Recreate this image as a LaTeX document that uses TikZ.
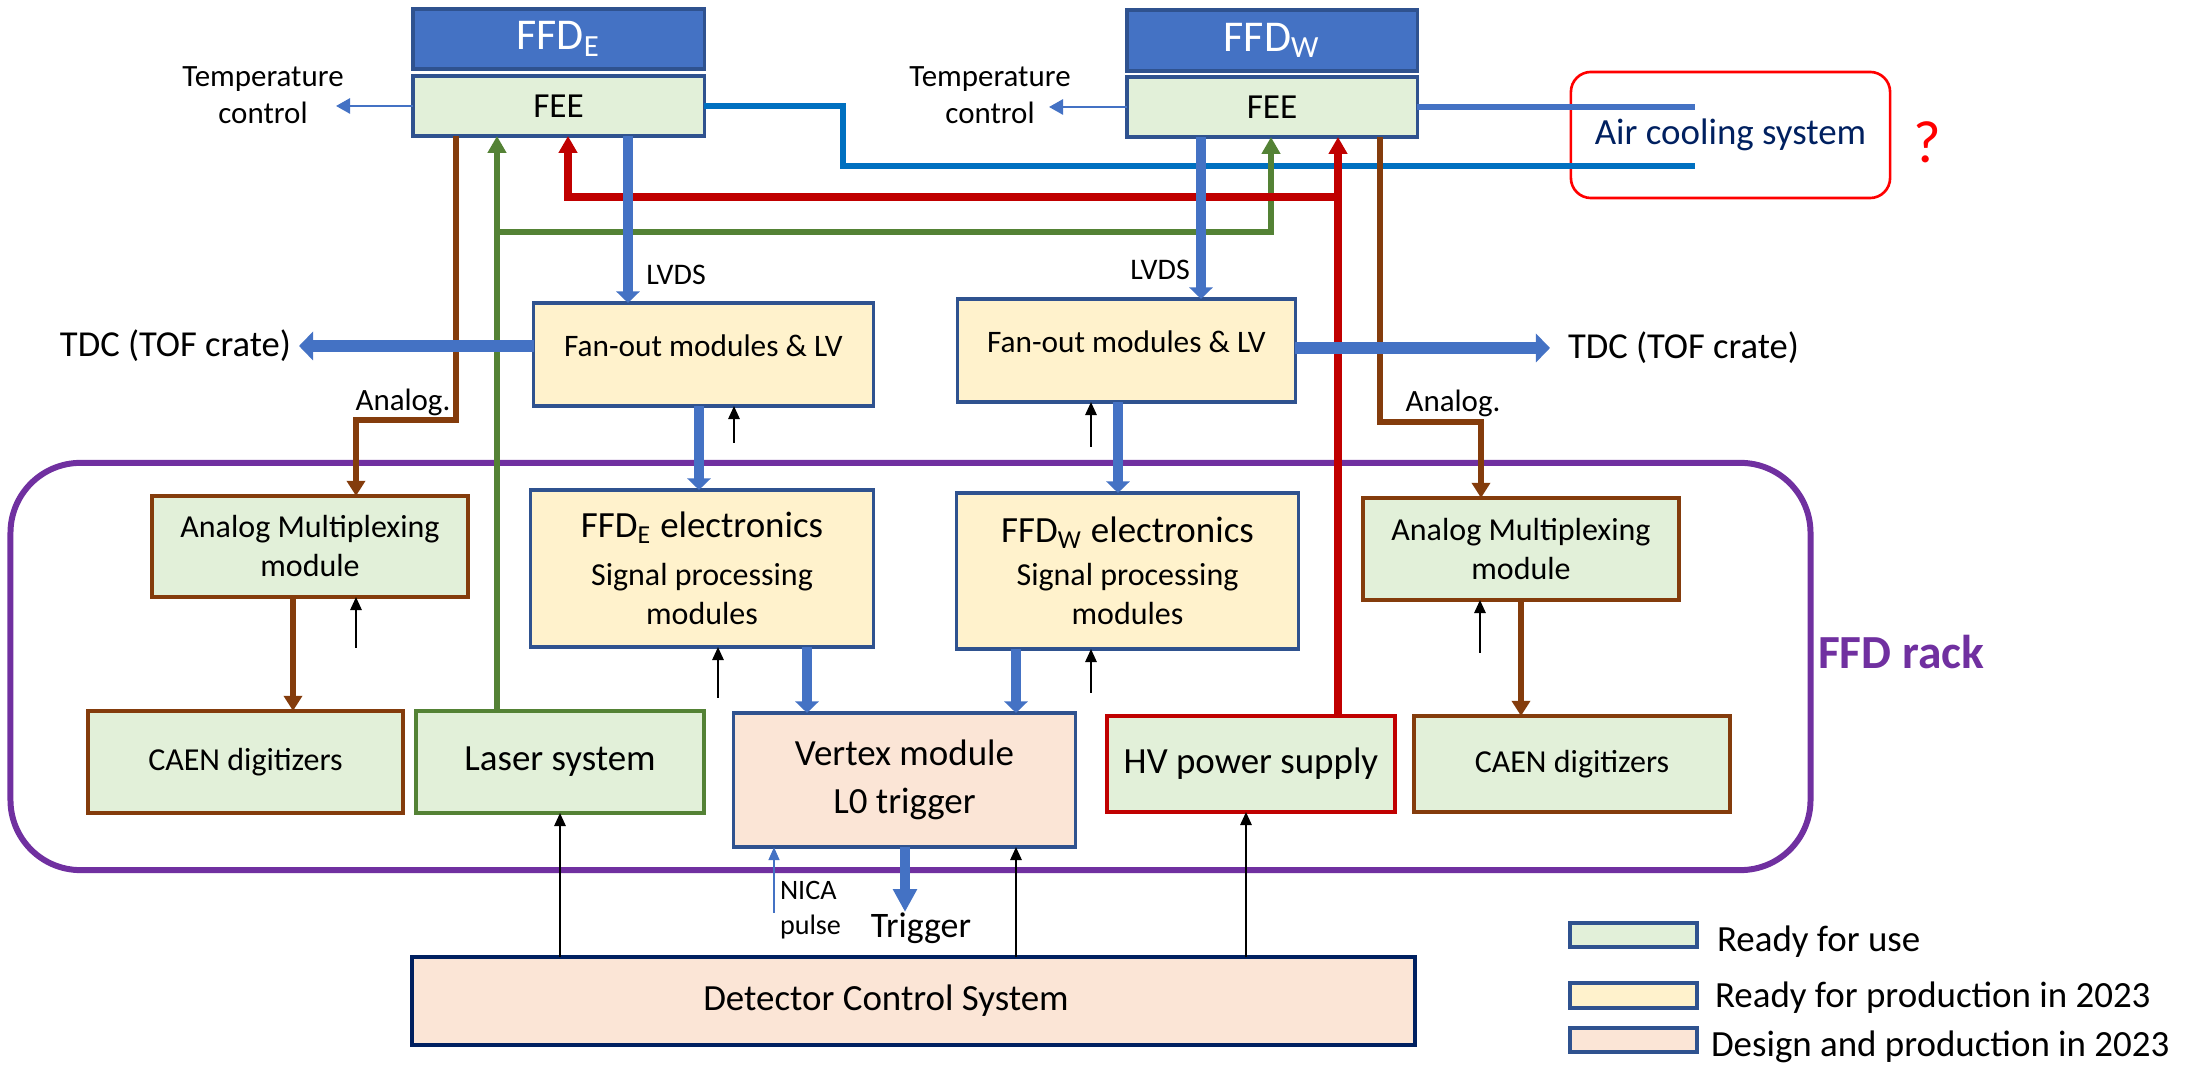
\documentclass[tikz,border=0pt]{standalone}
\usepackage{fontspec}
\setmainfont{Carlito}
\usetikzlibrary{arrows.meta}
\definecolor{ffdblue}{HTML}{4472C4}
\definecolor{bordblue}{HTML}{2F528F}
\definecolor{fillgreen}{HTML}{E2F0D9}
\definecolor{fillyellow}{HTML}{FFF2CC}
\definecolor{fillpeach}{HTML}{FBE5D6}
\definecolor{navyc}{HTML}{002060}
\definecolor{brownc}{HTML}{843C0C}
\definecolor{greenc}{HTML}{548235}
\definecolor{redc}{HTML}{C00000}
\definecolor{coolblue}{HTML}{0070C0}
\definecolor{rackpurple}{HTML}{7030A0}
\definecolor{airred}{HTML}{FF0000}
\begin{document}
\begin{tikzpicture}[x=0.01cm,y=-0.01cm,
  wh/.style 2 args={minimum width=#1,minimum height=#2},
  box/.style={draw=bordblue,line width=0.9pt,inner sep=0pt,outer sep=0pt,align=center},
  lbl/.style={inner sep=0pt,outer sep=0pt,align=center},
  fsmall/.style={font=\fontsize{8.8}{10.5}\selectfont},
  fmid/.style={font=\fontsize{9.1}{11.1}\selectfont},
  fbig/.style={font=\fontsize{10.5}{12.8}\selectfont},
  bluearrow/.style={draw=ffdblue,line width=3.1pt,-{Triangle[length=3.3pt,width=6.6pt]}},
  tdcarrow/.style={draw=ffdblue,line width=3.2pt,-{Triangle[length=4pt,width=8pt]}},
  trigarrow/.style={draw=ffdblue,line width=2.9pt,-{Triangle[length=6.5pt,width=6.5pt]}},
  temparrow/.style={draw=ffdblue,line width=0.75pt,-{Triangle[length=4pt,width=4.3pt]}},
  nicaarrow/.style={draw=ffdblue,line width=0.75pt,-{Triangle[length=3.7pt,width=3pt]}},
  blackarrow/.style={draw=black,line width=0.6pt,-{Triangle[length=3.7pt,width=3.2pt]}},
  brownarrow/.style={draw=brownc,line width=1.7pt,-{Triangle[length=4.3pt,width=5.1pt]}},
  greenarrow/.style={draw=greenc,line width=1.7pt,-{Triangle[length=4.8pt,width=5.1pt]}},
  redarrow/.style={draw=redc,line width=2pt,-{Triangle[length=4.8pt,width=5.1pt]}},
  coolline/.style={draw=coolblue,line width=1.7pt},
  coolline2/.style={draw=ffdblue,line width=1.9pt},
]
\useasboundingbox (0,0) rectangle (2202,1065);

% FFD rack
\node[draw=rackpurple,line width=1.7pt,rounded corners=0.7cm,inner sep=0pt,outer sep=0pt,wh={17.99cm}{4.07cm}] (rack) at (910.5,666.5) {};
\node[lbl,anchor=base west,text=rackpurple,font=\fontsize{13.5}{16}\selectfont\bfseries] (racklbl) at (1818,669) {FFD rack};

% Top blocks
\node[box,fill=ffdblue,text=white,font=\fontsize{12.5}{15}\selectfont,wh={2.91cm}{0.60cm}] (ffdE) at (558.5,39) {FFD\textsubscript{E}};
\node[box,fill=fillgreen,font=\fontsize{10}{12}\selectfont,wh={2.91cm}{0.60cm}] (feeE) at (558.5,106) {FEE};
\node[box,fill=ffdblue,text=white,font=\fontsize{12.5}{15}\selectfont,wh={2.90cm}{0.61cm}] (ffdW) at (1272,40.5) {FFD\textsubscript{W}};
\node[box,fill=fillgreen,font=\fontsize{10}{12}\selectfont,wh={2.90cm}{0.60cm}] (feeW) at (1272,107) {FEE};

% Air cooling
\node[draw=airred,line width=0.75pt,rounded corners=0.2cm,inner sep=0pt,outer sep=0pt,wh={3.19cm}{1.26cm},text=navyc,fbig] (air) at (1730.5,135) {Air cooling system};
\node[lbl,text=airred,font=\fontsize{17}{20}\selectfont] (qmark) at (1927,142) {?};

% Fan-out
\node[box,fill=fillyellow,font=\fontsize{8.9}{10.9}\selectfont,text height=5.7pt,text depth=4.6pt,wh={3.39cm}{1.03cm}] (fanE) at (703.5,354.5) {Fan-out modules \& LV};
\node[box,fill=fillyellow,font=\fontsize{8.9}{10.9}\selectfont,text height=5.7pt,text depth=4.6pt,wh={3.37cm}{1.03cm}] (fanW) at (1126.5,350.5) {Fan-out modules \& LV};

% Electronics
\node[box,fill=fillyellow,fmid,wh={3.42cm}{1.57cm}] (elecE) at (702,568.5) {{\fontsize{10.5}{12.8}\selectfont FFD\textsubscript{E} electronics}\\[2.6pt]Signal processing\\modules};
\node[box,fill=fillyellow,fmid,wh={3.41cm}{1.56cm}] (elecW) at (1127.5,571) {{\fontsize{10.5}{12.8}\selectfont FFD\textsubscript{W} electronics}\\[1.2pt]Signal processing\\modules};

% Mux
\node[box,draw=brownc,line width=1.1pt,fill=fillgreen,fmid,wh={3.16cm}{1.01cm}] (muxE) at (310,546.5) {Analog Multiplexing\\module};
\node[box,draw=brownc,line width=1.1pt,fill=fillgreen,fmid,wh={3.16cm}{1.02cm}] (muxW) at (1521,549) {Analog Multiplexing\\module};

% Bottom row
\node[box,draw=brownc,line width=1.1pt,fill=fillgreen,fmid,wh={3.15cm}{1.02cm}] (caenE) at (245.5,762) {CAEN digitizers};
\node[box,draw=greenc,line width=1.1pt,fill=fillgreen,fbig,wh={2.88cm}{1.02cm}] (laser) at (560,762) {Laser system};
\node[box,fill=fillpeach,fbig,wh={3.41cm}{1.34cm}] (vertex) at (904.5,780) {Vertex module\\[1pt]L0 trigger};
\node[box,draw=redc,line width=1.1pt,fill=fillgreen,fbig,wh={2.88cm}{0.96cm}] (hv) at (1251,764) {HV power supply};
\node[box,draw=brownc,line width=1.1pt,fill=fillgreen,fmid,wh={3.16cm}{0.96cm}] (caenW) at (1572,764) {CAEN digitizers};

% DCS
\node[box,draw=navyc,line width=1.2pt,fill=fillpeach,fbig,wh={10.03cm}{0.88cm}] (dcs) at (913.5,1001) {Detector Control System\hspace*{0.55cm}};

% Legend
\node[box,fill=fillgreen,wh={1.27cm}{0.24cm}] (lg1) at (1633.5,935) {};
\node[box,fill=fillyellow,wh={1.27cm}{0.25cm}] (lg2) at (1633.5,995.5) {};
\node[box,fill=fillpeach,wh={1.27cm}{0.24cm}] (lg3) at (1633.5,1040) {};
\node[lbl,fbig,anchor=base west] (lg1t) at (1717,952) {Ready for use};
\node[lbl,fbig,anchor=base west] (lg2t) at (1715,1008) {Ready for production in 2023};
\node[lbl,fbig,anchor=base west] (lg3t) at (1711,1057) {Design and production in 2023};

% Text labels
\node[lbl,fsmall] (tempEt) at (263,95) {Temperature\\control};
\node[lbl,fsmall] (tempWt) at (990,95) {Temperature\\control};
\node[lbl,font=\fontsize{8.5}{10}\selectfont] (lvdsEt) at (676,275) {LVDS};
\node[lbl,font=\fontsize{8.5}{10}\selectfont] (lvdsWt) at (1160,270) {LVDS};
\node[lbl,fsmall] (anEt) at (403,402) {Analog.};
\node[lbl,fsmall] (anWt) at (1453,403) {Analog.};
\node[lbl,font=\fontsize{10.4}{12.5}\selectfont,anchor=east] (tdcEt) at (291,346) {TDC (TOF crate)};
\node[lbl,font=\fontsize{10.4}{12.5}\selectfont,anchor=west] (tdcWt) at (1568,348) {TDC (TOF crate)};
\node[lbl,align=left,anchor=west,font=\fontsize{8}{10}\selectfont] (nicat) at (780,910) {NICA\\pulse};
\node[lbl,font=\fontsize{10.2}{12}\selectfont] (trigt) at (921,928) {Trigger};

% Coordinates
\coordinate (tE) at (336,106);
\coordinate (tW) at (1049,107);
\coordinate (cA) at (843,106);
\coordinate (cB) at (843,166);
\coordinate (airBot) at (1695,166);
\coordinate (airTop) at (1695,107);
\coordinate (rA) at (1338,197);
\coordinate (rB) at (568,197);
\coordinate (gA) at (497,232);
\coordinate (gB) at (1271,232);
\coordinate (bE1) at (456,420);
\coordinate (bE2) at (356,420);
\coordinate (bE3) at (293,0);
\coordinate (bW1) at (1380,422);
\coordinate (bW2) at (1481,422);
\coordinate (bW3) at (1521,0);
\coordinate (lE) at (628,0);
\coordinate (lW) at (1201,0);
\coordinate (tdcE) at (299,346);
\coordinate (tdcW) at (1550,348);
\coordinate (feE) at (699,0);
\coordinate (feW) at (1118,0);
\coordinate (evE) at (807,0);
\coordinate (evW) at (1016,0);
\coordinate (k1) at (734,443);
\coordinate (k2) at (1091,447);
\coordinate (k3) at (356,648);
\coordinate (k4) at (1480,653);
\coordinate (k5) at (718,698);
\coordinate (k6) at (1091,693);
\coordinate (d1) at (560,0);
\coordinate (d2) at (1016,0);
\coordinate (d3) at (1246,0);
\coordinate (nica) at (774,913);
\coordinate (trig) at (905,912);

% Cooling
\draw[coolline] (feeE.east |- cA) -- (cA) -- (cB) -- (airBot);
\draw[coolline2] (feeW.east |- airTop) -- (airTop);

% Temperature
\draw[temparrow] (feeE.west |- tE) -- (tE);
\draw[temparrow] (feeW.west |- tW) -- (tW);

% Brown
\draw[brownarrow] (feeE.south -| bE1) -- (bE1) -- (bE2) -- (muxE.north -| bE2);
\draw[brownarrow] (muxE.south -| bE3) -- (caenE.north -| bE3);
\draw[brownarrow] (feeW.south -| bW1) -- (bW1) -- (bW2) -- (muxW.north -| bW2);
\draw[brownarrow] (muxW.south -| bW3) -- (caenW.north -| bW3);

% Green
\draw[greenarrow] (laser.north -| gA) -- (feeE.south -| gA);
\draw[greenarrow] (gA) -- (gB) -- (feeW.south -| gB);

% Red
\draw[redarrow] (hv.north -| rA) -- (feeW.south -| rA);
\draw[redarrow] (rA) -- (rB) -- (feeE.south -| rB);

% Blue
\draw[bluearrow] (feeE.south -| lE) -- (fanE.north -| lE);
\draw[bluearrow] (feeW.south -| lW) -- (fanW.north -| lW);
\draw[tdcarrow] (fanE.west |- tdcE) -- (tdcE);
\draw[tdcarrow] (fanW.east |- tdcW) -- (tdcW);
\draw[bluearrow] (fanE.south -| feE) -- (elecE.north -| feE);
\draw[bluearrow] (fanW.south -| feW) -- (elecW.north -| feW);
\draw[bluearrow] (elecE.south -| evE) -- (vertex.north -| evE);
\draw[bluearrow] (elecW.south -| evW) -- (vertex.north -| evW);
\draw[trigarrow] (vertex.south -| trig) -- (trig);
\draw[nicaarrow] (nica) -- (vertex.south -| nica);

% Black
\draw[blackarrow] (k1) -- (fanE.south -| k1);
\draw[blackarrow] (k2) -- (fanW.south -| k2);
\draw[blackarrow] (k3) -- (muxE.south -| k3);
\draw[blackarrow] (k4) -- (muxW.south -| k4);
\draw[blackarrow] (k5) -- (elecE.south -| k5);
\draw[blackarrow] (k6) -- (elecW.south -| k6);
\draw[blackarrow] (dcs.north -| d1) -- (laser.south -| d1);
\draw[blackarrow] (dcs.north -| d2) -- (vertex.south -| d2);
\draw[blackarrow] (dcs.north -| d3) -- (hv.south -| d3);
\end{tikzpicture}
\end{document}
